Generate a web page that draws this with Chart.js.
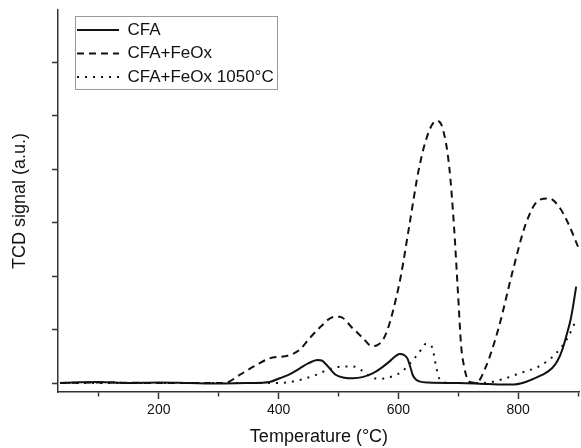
<!DOCTYPE html>
<html>
<head>
<meta charset="utf-8">
<script src="https://cdn.jsdelivr.net/npm/chart.js@4.4.1/dist/chart.umd.min.js"></script>
<style>
  body { margin: 0; background: #fff; }
  #wrap { width: 581px; height: 448px; }
</style>
</head>
<body>
<div id="wrap"><canvas id="tpr-chart" width="581" height="448"></canvas></div>
<script>
// temperature (°C) and TCD signal (a.u.)
const tempCFA = [35, 60, 100, 150, 200, 250, 300, 350, 385, 402, 420, 435, 450, 465, 472, 480, 496, 510, 524, 540, 557, 570, 585, 595, 602, 610, 615, 620, 624, 630, 635, 650, 700, 750, 790, 810, 824, 840, 857, 866, 874, 881, 888, 897]
const sigCFA  = [0, 0.01, 0.02, 0, 0.01, 0, -0.01, 0, 0.02, 0.09, 0.17, 0.27, 0.37, 0.43, 0.42, 0.34, 0.15, 0.10, 0.09, 0.11, 0.18, 0.27, 0.40, 0.50, 0.54, 0.52, 0.46, 0.30, 0.15, 0.06, 0.03, 0.01, 0, -0.02, -0.03, 0.01, 0.07, 0.15, 0.28, 0.42, 0.63, 0.90, 1.20, 1.80]

const tempFeOx = [35, 100, 200, 300, 313, 335, 357, 385, 418, 435, 452, 470, 490, 502, 524, 540, 556, 565, 574, 582, 590, 604, 618, 635, 652, 664, 674, 685, 693, 699, 705, 710, 716, 723, 730, 746, 768, 790, 813, 835, 852, 868, 883, 900]
const sigFeOx  = [0, 0.01, 0, 0, 0.01, 0.15, 0.30, 0.46, 0.52, 0.62, 0.84, 1.05, 1.23, 1.24, 1.02, 0.85, 0.69, 0.71, 0.80, 1.00, 1.30, 1.99, 2.92, 4.04, 4.73, 4.90, 4.76, 4.04, 2.92, 1.80, 0.68, 0.30, 0.06, 0.01, 0, 0.30, 1.05, 2.05, 2.98, 3.42, 3.45, 3.30, 3.00, 2.55]

const tempFeOx1050 = [35, 100, 200, 300, 385, 413, 446, 465, 480, 495, 507, 524, 538, 548, 557, 570, 580, 593, 607, 617, 627, 638, 646, 652, 657, 663, 668, 675, 685, 740, 774, 802, 835, 850, 863, 882, 897]
const sigFeOx1050  = [0, 0, 0, 0, 0, 0.01, 0.09, 0.16, 0.24, 0.29, 0.31, 0.31, 0.24, 0.16, 0.10, 0.08, 0.09, 0.14, 0.22, 0.34, 0.46, 0.62, 0.73, 0.72, 0.65, 0.31, 0.09, 0.02, 0, 0, 0.07, 0.18, 0.31, 0.42, 0.55, 0.83, 1.18]

const seriesNames = ['CFA', 'CFA+FeOx', 'CFA+FeOx 1050°C']
const xTickValues = [100, 200, 300, 400, 500, 600, 700, 800, 900]
const yTickValues = [0, 1, 2, 3, 4, 5, 6]

function toPoints(xs, ys) {
    return xs.map((x, i) => ({ x: x, y: ys[i] }))
}

Chart.defaults.font.family = '"Liberation Sans", Arial, sans-serif'
Chart.defaults.color = '#111'

// move the legend into the top-left of the plot and give it a thin frame
const legendPlace = {
    id: 'legendPlace',
    afterLayout(chart) {
        chart.legend.left = 70.5
        chart.legend.top = 15
    },
    afterDraw(chart) {
        const boxes = chart.legend.legendHitBoxes
        if (!boxes || !boxes.length) return
        const left = boxes[0].left - 2
        const top = boxes[0].top - 6
        const right = Math.max(...boxes.map(b => b.left + b.width)) + 3
        const last = boxes[boxes.length - 1]
        const bottom = last.top + last.height + 3
        const ctx = chart.ctx
        ctx.save()
        ctx.strokeStyle = '#9a9a9a'
        ctx.lineWidth = 1
        ctx.strokeRect(Math.round(left) + 0.5, Math.round(top) + 0.5, Math.round(right - left), Math.round(bottom - top))
        ctx.restore()
    }
}

new Chart(document.querySelector('#tpr-chart').getContext('2d'), {
    type: 'line',
    data: {
        datasets: [
            {
                label: seriesNames[0],
                data: toPoints(tempCFA, sigCFA),
                borderColor: '#111',
                borderWidth: 2,
                pointRadius: 0,
                cubicInterpolationMode: 'monotone'
            },
            {
                label: seriesNames[1],
                data: toPoints(tempFeOx, sigFeOx),
                borderColor: '#111',
                borderWidth: 2,
                borderDash: [7, 5],
                pointRadius: 0,
                cubicInterpolationMode: 'monotone'
            },
            {
                label: seriesNames[2],
                data: toPoints(tempFeOx1050, sigFeOx1050),
                borderColor: '#111',
                borderWidth: 2,
                borderDash: [2, 6],
                pointRadius: 0,
                cubicInterpolationMode: 'monotone'
            }
        ]
    },
    options: {
        responsive: false,
        animation: false,
        layout: { padding: { left: 0, top: 10, right: 0, bottom: 0 } },
        plugins: {
            tooltip: { enabled: false },
            legend: {
                position: 'chartArea',
                align: 'start',
                fullSize: false,
                labels: {
                    usePointStyle: true,
                    pointStyle: 'line',
                    pointStyleWidth: 42,
                    padding: 6.5,
                    color: '#111',
                    font: { size: 17 },
                    // the line samples should carry each dataset's dash pattern
                    generateLabels: chart => Chart.defaults.plugins.legend.labels.generateLabels(chart).map(item => {
                        item.lineDash = chart.data.datasets[item.datasetIndex].borderDash || []
                        item.lineWidth = 2
                        item.strokeStyle = '#111'
                        return item
                    })
                }
            }
        },
        scales: {
            x: {
                type: 'linear',
                min: 31.7,
                max: 903.3,
                afterBuildTicks: scale => { scale.ticks = xTickValues.map(v => ({ value: v })) },
                ticks: {
                    autoSkip: false,
                    maxRotation: 0,
                    padding: 3,
                    color: '#111',
                    font: { size: 14 },
                    callback: v => (v % 200 === 0 ? v : '')
                },
                grid: {
                    drawOnChartArea: false,
                    tickLength: 7,
                    tickColor: '#333',
                    tickWidth: 1.5,
                    tickBorderDash: c => (c.tick && c.tick.value % 200 !== 0 ? [4, 20] : [])
                },
                border: { display: true, color: '#333', width: 1.5 },
                title: {
                    display: true,
                    text: 'Temperature (°C)',
                    color: '#111',
                    font: { size: 18 },
                    padding: { top: 4.6, bottom: 0 }
                }
            },
            y: {
                type: 'linear',
                min: -0.168,
                max: 6.972,
                afterBuildTicks: scale => { scale.ticks = yTickValues.map(v => ({ value: v })) },
                ticks: { display: false },
                grid: {
                    drawOnChartArea: false,
                    tickLength: 6,
                    tickColor: '#333',
                    tickWidth: 1.5
                },
                border: { display: true, color: '#333', width: 1.5 },
                title: {
                    display: true,
                    text: 'TCD signal (a.u.)',
                    color: '#111',
                    font: { size: 18 },
                    padding: { top: 9.2, bottom: 21.2 }
                }
            }
        }
    },
    plugins: [legendPlace]
})
</script>
</body>
</html>
